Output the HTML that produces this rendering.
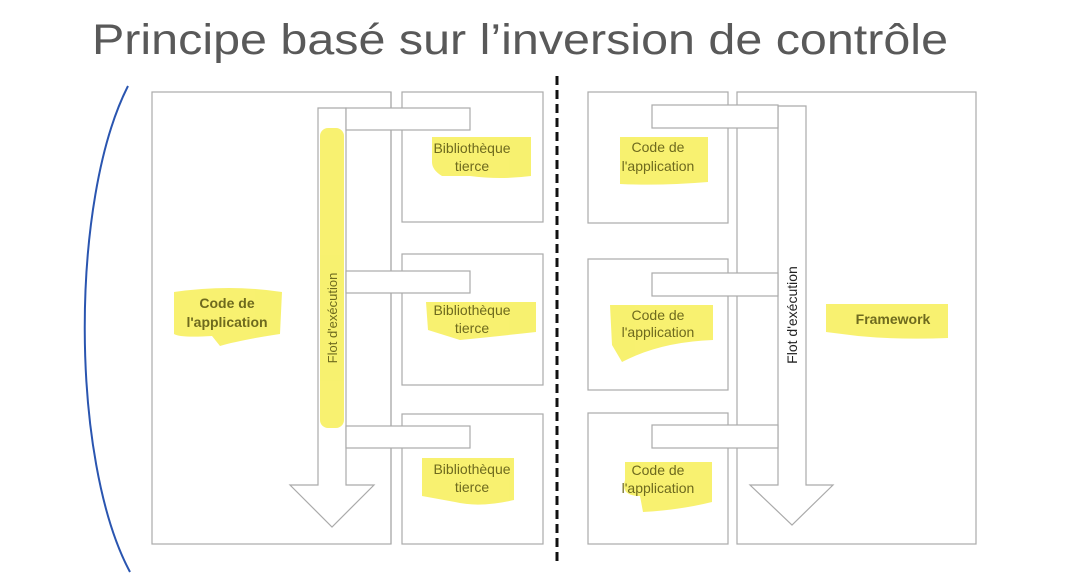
<!DOCTYPE html>
<html><head><meta charset="utf-8"><style>
html,body{margin:0;padding:0;background:#fff;width:1072px;height:576px;overflow:hidden}
svg{display:block}
.t{font-family:"Liberation Sans",Arial,sans-serif;font-size:14px;fill:#6e6a1e;text-anchor:middle}
.b{font-weight:bold}
</style></head><body>
<svg width="1072" height="576" viewBox="0 0 1072 576" xmlns="http://www.w3.org/2000/svg">
<rect width="1072" height="576" fill="#fff"/>
<text x="92" y="54" font-family="'Liberation Sans',Arial,sans-serif" font-size="43" fill="#595959" textLength="856" lengthAdjust="spacingAndGlyphs">Principe basé sur l’inversion de contrôle</text>
<path d="M128 86 C 70 200, 70 460, 130 572" fill="none" stroke="#2a55b0" stroke-width="2"/>
<line x1="557" y1="76" x2="557" y2="566" stroke="#111" stroke-width="3" stroke-dasharray="9,5"/>
<g fill="#fff" stroke="#aaa" stroke-width="1.2">
<!-- left -->
<rect x="152" y="92" width="239" height="452"/>
<rect x="402" y="92" width="141" height="130"/>
<rect x="402" y="254" width="141" height="131"/>
<rect x="402" y="414" width="141" height="130"/>
<path d="M318 108 H346 V485 H374 L332 527 L290 485 H318 Z"/>
<line x1="391" y1="92" x2="391" y2="544"/>
<rect x="346" y="108" width="124" height="22"/>
<rect x="346" y="271" width="124" height="22"/>
<rect x="346" y="426" width="124" height="22"/>
<!-- right -->
<rect x="588" y="92" width="140" height="131"/>
<rect x="588" y="259" width="140" height="131"/>
<rect x="588" y="413" width="140" height="131"/>
<rect x="737" y="92" width="239" height="452"/>
<path d="M778 106 H806 V485 H833 L792 525 L750 485 H778 Z"/>
<rect x="652" y="105" width="126" height="23"/>
<rect x="652" y="273" width="126" height="23"/>
<rect x="652" y="425" width="126" height="23"/>
</g>
<g fill="#f7f060" opacity="0.9">
<path d="M174 292 Q230 284 282 292 L280 334 Q240 340 220 346 L212 336 Q180 338 174 334 Z"/>
<rect x="320" y="128" width="24" height="300" rx="8"/>
<path d="M432 137 H531 V176 Q500 180 470 176 L442 176 Q432 170 432 162 Z"/>
<path d="M426 302 H536 V332 Q500 336 460 340 L428 330 Z"/>
<path d="M422 458 H514 V500 Q480 508 455 502 L422 496 Z"/>
<path d="M620 137 H708 V182 Q660 186 620 184 Z"/>
<path d="M610 305 H713 V340 Q660 342 622 362 L612 345 Z"/>
<path d="M625 462 H712 V502 Q680 510 643 512 L640 496 Q620 496 625 480 Z"/>
<path d="M826 304 H948 V338 Q900 340 858 336 L826 332 Z"/>
</g>
<text class="t b" x="227" y="308">Code de</text>
<text class="t b" x="227" y="327">l'application</text>
<text class="t" x="472" y="153">Bibliothèque</text>
<text class="t" x="472" y="171">tierce</text>
<text class="t" x="472" y="315">Bibliothèque</text>
<text class="t" x="472" y="333">tierce</text>
<text class="t" x="472" y="474">Bibliothèque</text>
<text class="t" x="472" y="492">tierce</text>
<text class="t" x="658" y="152">Code de</text>
<text class="t" x="658" y="171">l'application</text>
<text class="t" x="658" y="320">Code de</text>
<text class="t" x="658" y="337">l'application</text>
<text class="t" x="658" y="475">Code de</text>
<text class="t" x="658" y="493">l'application</text>
<text class="t b" x="893" y="324">Framework</text>
<text class="t" transform="translate(337,318) rotate(-90)" style="font-size:13px">Flot d'exécution</text>
<text class="t" transform="translate(797,315) rotate(-90)" style="font-size:14px;fill:#222">Flot d'exécution</text>
</svg>
</body></html>
